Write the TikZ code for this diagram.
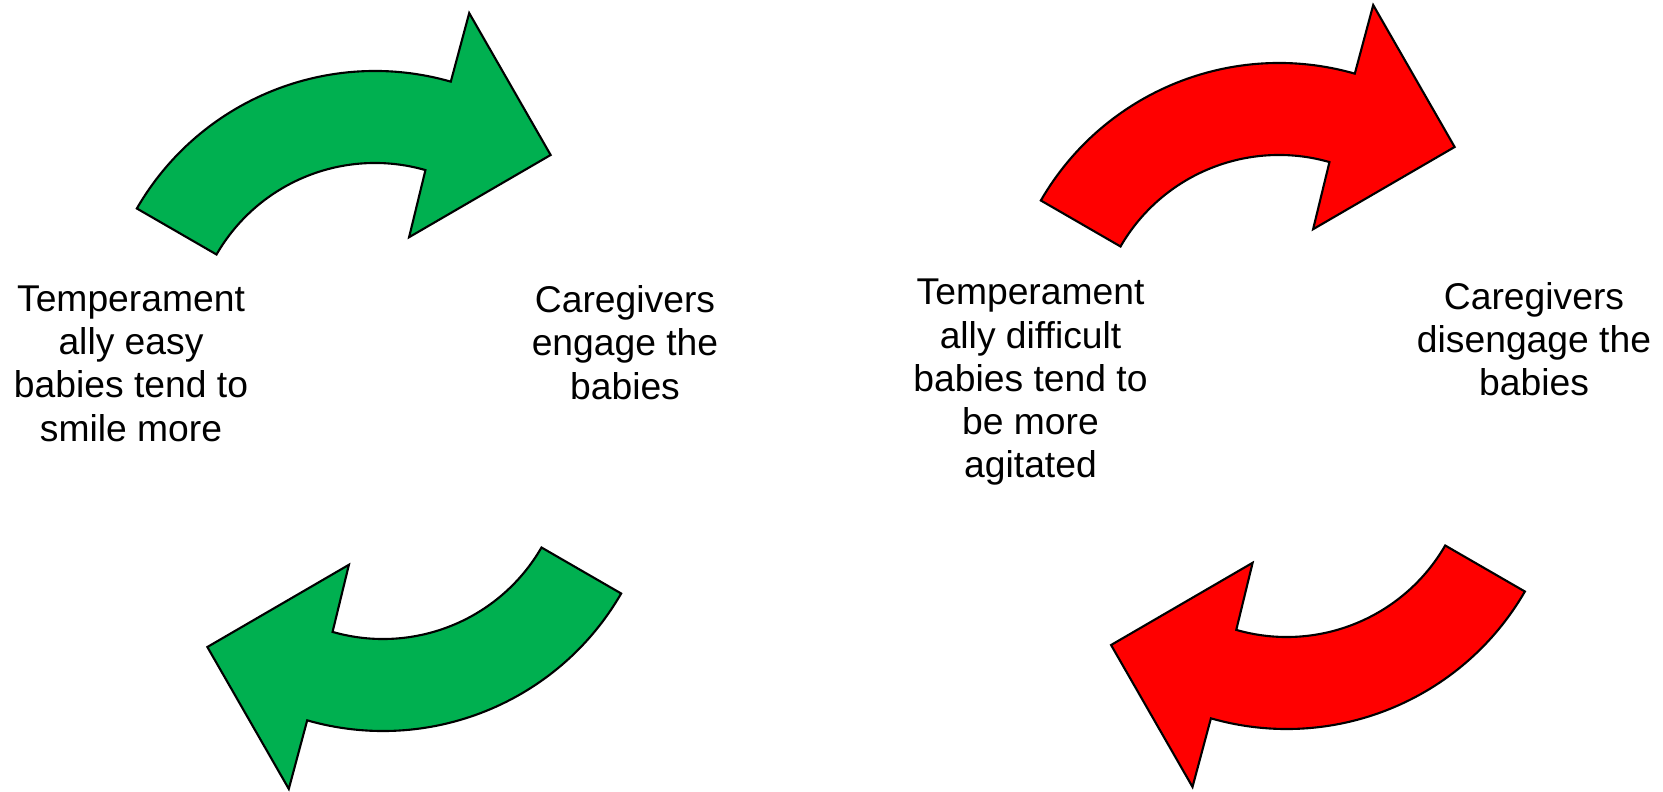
\documentclass[tikz,border=0pt]{standalone}
\usepackage{fontspec}
\setmainfont{Liberation Sans}
\usetikzlibrary{positioning}
\definecolor{easygreen}{RGB}{0,176,80}
\definecolor{hardred}{RGB}{255,0,0}

\begin{document}
\begin{tikzpicture}[
    sidetext/.style={align=center,inner sep=0pt,anchor=north,font=\fontsize{10.6}{12.3}\selectfont},
    cyclearrow/.pic={
      \filldraw[fill=#1,draw=black,line width=0.6pt]
        (150:2.75) arc[start angle=150,end angle=74,radius=2.75]
        -- (74.2:3.46) -- (47.4:2.595) -- (72.6:1.14) -- (74:1.83)
        arc[start angle=74,end angle=150,radius=1.83] -- cycle;
    }
  ]
  \useasboundingbox (0,0) rectangle (16.63,7.91);

  % easy cycle
  \pic at (3.75,4.45) {cyclearrow=easygreen};
  \pic[rotate=180] at (3.83,3.35) {cyclearrow=easygreen};
  \node[sidetext] (easy) at (1.31,5.06) {Temperament\\ally easy\\babies tend to\\smile more};
  \node[sidetext] (engage) at (6.25,5.06) {Caregivers\\engage the\\babies};

  % difficult cycle
  \pic at (12.79,4.53) {cyclearrow=hardred};
  \pic[rotate=180] at (12.867,3.37) {cyclearrow=hardred};
  \node[sidetext] (difficult) at (10.305,5.125) {Temperament\\ally difficult\\babies tend to\\be more\\agitated};
  \node[sidetext] (disengage) at (15.34,5.095) {Caregivers\\disengage the\\babies};
\end{tikzpicture}
\end{document}
